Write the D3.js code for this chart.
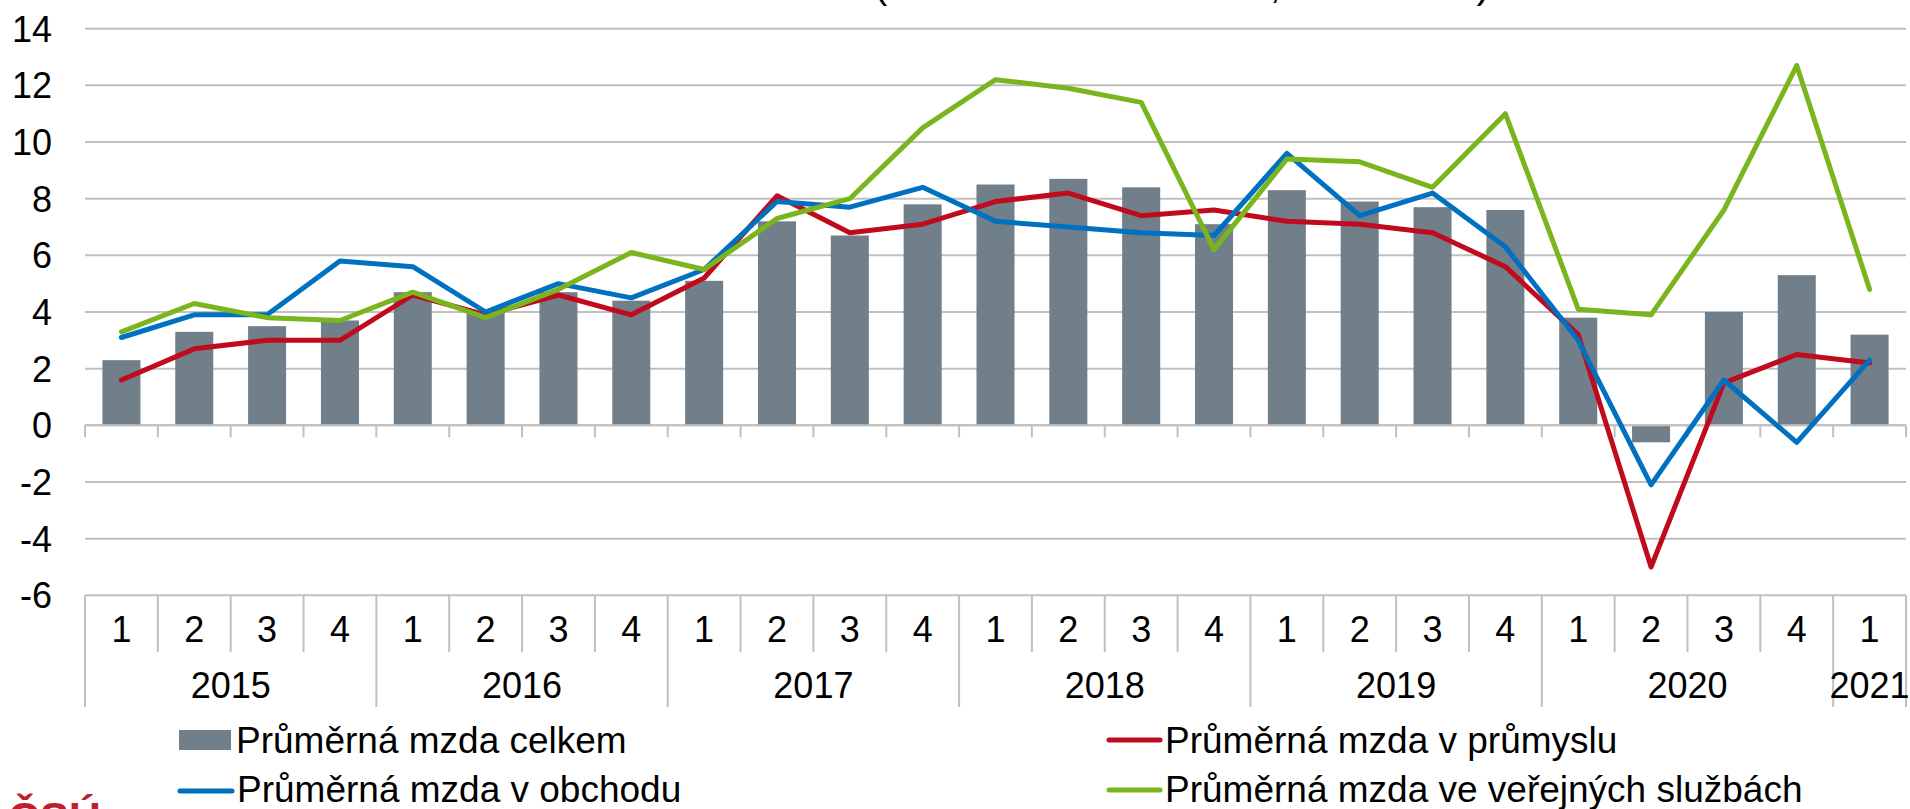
<!DOCTYPE html>
<meta charset="utf-8">
<head>
    <style>
        body { margin: 0; background: #fff; }
        svg text { font-family: "Liberation Sans", Arial, sans-serif; fill: #000; }
        .grid line { stroke: #c0c0c0; stroke-width: 2; }
        .series { fill: none; stroke-width: 5; stroke-linejoin: round; stroke-linecap: round; }
    </style>
    <script src="https://d3js.org/d3.v7.min.js"></script>
</head>
<body>
<script>

    // ctvrtleti 2015 Q1 .. 2021 Q1
    var quarters = ["1", "2", "3", "4", "1", "2", "3", "4", "1", "2", "3", "4", "1", "2", "3", "4",
        "1", "2", "3", "4", "1", "2", "3", "4", "1"];
    var years = ["2015", "2016", "2017", "2018", "2019", "2020", "2021"];
    var yearLength = [4, 4, 4, 4, 4, 4, 1];

    var mzdaCelkem = [2.3, 3.3, 3.5, 3.7, 4.7, 4.0, 4.7, 4.4, 5.1, 7.2, 6.7, 7.8, 8.5, 8.7, 8.4, 7.1,
        8.3, 7.9, 7.7, 7.6, 3.8, -0.6, 4.0, 5.3, 3.2];
    var mzdaPrumysl = [1.6, 2.7, 3.0, 3.0, 4.6, 3.9, 4.6, 3.9, 5.2, 8.1, 6.8, 7.1, 7.9, 8.2, 7.4, 7.6,
        7.2, 7.1, 6.8, 5.6, 3.2, -5.0, 1.5, 2.5, 2.2];
    var mzdaObchod = [3.1, 3.9, 3.9, 5.8, 5.6, 4.0, 5.0, 4.5, 5.5, 7.9, 7.7, 8.4, 7.2, 7.0, 6.8, 6.7,
        9.6, 7.4, 8.2, 6.3, 3.0, -2.1, 1.6, -0.6, 2.3];
    var mzdaSluzby = [3.3, 4.3, 3.8, 3.7, 4.7, 3.8, 4.8, 6.1, 5.5, 7.3, 8.0, 10.5, 12.2, 11.9, 11.4, 6.2,
        9.4, 9.3, 8.4, 11.0, 4.1, 3.9, 7.6, 12.7, 4.8];

    var yTicks = [-6, -4, -2, 0, 2, 4, 6, 8, 10, 12, 14];

    var width = 1910, height = 809;
    var left = 85, right = 1906;

    var svg = d3.select("body").append("svg")
        .attr("width", width)
        .attr("height", height);

    var x = d3.scaleBand()
        .domain(d3.range(quarters.length))
        .range([left, right])
        .paddingInner(0.478)
        .paddingOuter(0.239);

    var step = x.step();
    var cx = function (i) { return x(i) + x.bandwidth() / 2; };

    var y = d3.scaleLinear()
        .domain([-6, 14])
        .range([595.3, 28.7]);

    // titulek (vetsina je mimo obrazek)
    svg.append("text")
        .attr("x", 874)
        .attr("y", -2)
        .style("font-size", "40px")
        .text("(meziroční změna v %, nominálně)");

    // mrizka
    svg.append("g").attr("class", "grid")
        .selectAll("line")
        .data(yTicks)
        .enter().append("line")
        .attr("x1", left).attr("x2", right)
        .attr("y1", function (d) { return y(d); })
        .attr("y2", function (d) { return y(d); });

    // popisky osy y
    svg.append("g")
        .selectAll("text")
        .data(yTicks)
        .enter().append("text")
        .attr("x", 52)
        .attr("y", function (d) { return y(d); })
        .attr("dy", "0.36em")
        .attr("text-anchor", "end")
        .style("font-size", "36px")
        .text(function (d) { return d; });

    // sloupce
    svg.append("g")
        .selectAll("rect")
        .data(mzdaCelkem)
        .enter().append("rect")
        .attr("x", function (d, i) { return x(i); })
        .attr("width", x.bandwidth())
        .attr("y", function (d) { return y(Math.max(0, d)); })
        .attr("height", function (d) { return Math.abs(y(d) - y(0)); })
        .attr("fill", "#707f8a");

    // osa x v nule
    var axis0 = svg.append("g").attr("class", "grid");
    axis0.append("line")
        .attr("x1", left).attr("x2", right)
        .attr("y1", y(0)).attr("y2", y(0));
    axis0.selectAll("line.tick")
        .data(d3.range(quarters.length + 1))
        .enter().append("line")
        .attr("class", "tick")
        .attr("x1", function (i) { return left + i * step; })
        .attr("x2", function (i) { return left + i * step; })
        .attr("y1", y(0)).attr("y2", y(0) + 12);

    // cary
    var line = d3.line()
        .x(function (d, i) { return cx(i); })
        .y(function (d) { return y(d); });

    var lines = [
        {values: mzdaPrumysl, color: "#c00b1e"},
        {values: mzdaObchod, color: "#0071c1"},
        {values: mzdaSluzby, color: "#7ab51d"}
    ];

    svg.append("g")
        .selectAll("path")
        .data(lines)
        .enter().append("path")
        .attr("class", "series")
        .attr("stroke", function (d) { return d.color; })
        .attr("d", function (d) { return line(d.values); });

    // tabulka kategorii pod grafem
    var yTop = y(-6);
    var tbl = svg.append("g").attr("class", "grid");

    var yearStart = [0];
    yearLength.forEach(function (n, k) { yearStart.push(yearStart[k] + n); });

    tbl.selectAll("line.q")
        .data(d3.range(quarters.length + 1))
        .enter().append("line")
        .attr("x1", function (i) { return left + i * step; })
        .attr("x2", function (i) { return left + i * step; })
        .attr("y1", yTop)
        .attr("y2", function (i) { return yearStart.indexOf(i) >= 0 ? 707 : 652; });

    svg.append("g")
        .selectAll("text")
        .data(quarters)
        .enter().append("text")
        .attr("x", function (d, i) { return cx(i); })
        .attr("y", 642)
        .attr("text-anchor", "middle")
        .style("font-size", "36px")
        .text(function (d) { return d; });

    svg.append("g")
        .selectAll("text")
        .data(years)
        .enter().append("text")
        .attr("x", function (d, k) { return left + (yearStart[k] + yearLength[k] / 2) * step; })
        .attr("y", 698)
        .attr("text-anchor", "middle")
        .style("font-size", "36px")
        .text(function (d) { return d; });

    // legenda
    var legend = svg.append("g");
    legend.append("rect")
        .attr("x", 179).attr("y", 730)
        .attr("width", 52).attr("height", 20)
        .attr("fill", "#707f8a");
    legend.append("line")
        .attr("x1", 180).attr("x2", 232).attr("y1", 791).attr("y2", 791)
        .attr("stroke", "#0071c1").attr("stroke-width", 5).attr("stroke-linecap", "round");
    legend.append("line")
        .attr("x1", 1109).attr("x2", 1160).attr("y1", 740).attr("y2", 740)
        .attr("stroke", "#c00b1e").attr("stroke-width", 5).attr("stroke-linecap", "round");
    legend.append("line")
        .attr("x1", 1109).attr("x2", 1160).attr("y1", 790).attr("y2", 790)
        .attr("stroke", "#7ab51d").attr("stroke-width", 5).attr("stroke-linecap", "round");

    var legendTexts = [
        {x: 236, y: 753, t: "Průměrná mzda celkem"},
        {x: 237, y: 802, t: "Průměrná mzda v obchodu"},
        {x: 1165, y: 753, t: "Průměrná mzda v průmyslu"},
        {x: 1165, y: 802, t: "Průměrná mzda ve veřejných službách"}
    ];
    legend.selectAll("text")
        .data(legendTexts)
        .enter().append("text")
        .attr("x", function (d) { return d.x; })
        .attr("y", function (d) { return d.y; })
        .style("font-size", "37px")
        .text(function (d) { return d.t; });

    // logo vlevo dole, oriznute
    svg.append("text")
        .attr("x", 8)
        .attr("y", 834)
        .style("font-size", "44px")
        .style("font-weight", "bold")
        .style("fill", "#be1e2d")
        .text("ČSÚ");

</script>
</body>
</html>
